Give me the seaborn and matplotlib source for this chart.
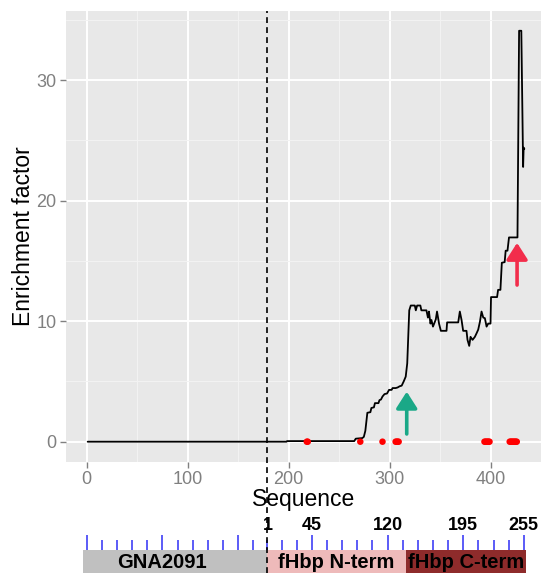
import matplotlib
matplotlib.use("Agg")
import matplotlib.pyplot as plt
import numpy as np
import pandas as pd
import seaborn as sns

# ---------------- data ----------------
seq_x = [1, 198, 198.5, 265, 266.5, 273, 274.5, 276, 278, 281, 282, 284.5, 285.5,
         289, 290, 291.5, 293, 295, 297.5, 299.5, 302, 303, 306, 308, 310, 312,
         314, 316, 317.5, 319.5, 321, 323, 325, 326, 327.3, 330.5, 331.5, 336.5,
         338, 339, 340.5, 341.5, 343, 345.8, 347, 349, 350.8, 356.4, 357, 368,
         369.6, 371.3, 372.9, 376.2, 377.2, 378.9, 380.2, 382.2, 384.5, 386.2,
         387.8, 389.5, 391.1, 392.8, 394.4, 396.1, 397.7, 400, 400.5, 406.5,
         407.5, 409.8, 411.2, 414, 415, 416.8, 418.3, 426.7, 428.3, 430.5,
         432.3, 432.8, 433.5]
enrich_y = [0, 0, 0.05, 0.05, 0.25, 0.3, 0.4, 0.9, 2.4, 2.45, 2.8, 2.85, 3.2,
            3.2, 3.45, 3.5, 3.75, 3.95, 4.0, 4.3, 4.3, 4.45, 4.45, 4.5, 4.6, 4.65,
            5.0, 5.4, 6.5, 10.9, 11.3, 11.3, 11.3, 10.9, 11.3, 11.3, 10.9, 10.9,
            10.3, 10.8, 9.8, 10.1, 9.55, 10.15, 10.8, 9.8, 9.2, 9.2, 9.9, 9.9,
            10.8, 10.1, 9.2, 9.2, 8.45, 7.95, 8.7, 8.45, 8.7, 9.0,
            9.3, 9.95, 10.8, 10.3, 10.25, 9.55, 9.8, 9.8, 12.0, 12.0,
            12.6, 12.6, 14.85, 14.9, 15.85, 15.85, 16.95, 16.95, 34.1, 34.1,
            22.8, 24.4, 24.3]

hit_x = [218, 219, 271, 293, 306, 307, 308, 309,
         394, 395, 396, 397, 398, 399,
         419, 420, 421, 422, 423, 424, 425, 426]
hit_y = [0] * len(hit_x)

x_ticks = [0, 100, 200, 300, 400]
y_ticks = [0, 10, 20, 30]
x_minor = [50, 150, 250, 350, 450]
y_minor = [5, 15, 25, 35]

construct_boundary = 178.5

# arrows: x, tail y, tip y
arrow_x = [317, 426.3]
arrow_tail = [0.64, 13.0]
arrow_tip = [4.15, 16.5]
arrow_colors = ["#1aa887", "#f22d4b"]

# bottom track
domain_names = ["GNA2091", "fHbp N-term", "fHbp C-term"]
domain_start = [-4, 179, 316]
domain_end = [179, 316, 435]
domain_label_x = [75, 247.5, 375.5]
domain_colors = ["#c0c0c0", "#eebaba", "#8e2b2b"]
fhbp_offset = 178
gna_ticks = [0, 15, 30, 45, 60, 75, 90, 105, 120, 135, 150, 165]
gna_major = [0, 75, 150]
fhbp_ticks = [1, 15, 30, 45, 60, 75, 90, 105, 120, 135, 150, 165, 180,
              195, 210, 225, 240, 255]
fhbp_major = [45, 120, 195, 255]
fhbp_labels = [1, 45, 120, 195, 255]

# ---------------- plot ----------------
sns.set_theme(style="darkgrid")
plt.rcParams["font.family"] = ["Liberation Sans", "DejaVu Sans"]

W, H = 541, 573
fig = plt.figure(figsize=(W / 100, H / 100), dpi=100)
ax = fig.add_axes([66 / W, 1 - 461.7 / H, 475 / W, 450.7 / H])
ax2 = fig.add_axes([66 / W, 0, 475 / W, 68 / H])
ax.set_zorder(3)

xlim = (-20.5, 450)
ax.set_facecolor("#e8e8e8")
for s in ax.spines.values():
    s.set_visible(False)

df = pd.DataFrame({"Sequence": seq_x, "Enrichment factor": enrich_y})
sns.lineplot(data=df, x="Sequence", y="Enrichment factor", ax=ax, sort=False,
             estimator=None, color="black", lw=1.3, zorder=4)
hits = pd.DataFrame({"x": hit_x, "y": hit_y})
sns.scatterplot(data=hits, x="x", y="y", ax=ax, color="#ff0000", s=22,
                edgecolor="none", zorder=5)

ax.axvline(construct_boundary, ymin=-0.247, ymax=1, color="black", lw=1.2,
           ls=(0, (3.5, 2.5)), clip_on=False, zorder=6)

for x, t0, t1, c in zip(arrow_x, arrow_tail, arrow_tip, arrow_colors):
    ax.annotate("", xy=(x, t1), xytext=(x, t0),
                arrowprops=dict(arrowstyle="-|>,head_length=0.5,head_width=0.32",
                                lw=2.6, color=c, mutation_scale=20,
                                shrinkA=0, shrinkB=0), zorder=6)

ax.set_xlim(*xlim)
ax.set_ylim(-1.66, 35.74)
ax.set_xticks(x_ticks)
ax.set_yticks(y_ticks)
ax.set_xticks(x_minor, minor=True)
ax.set_yticks(y_minor, minor=True)
ax.grid(which="major", color="white", lw=1.4)
ax.grid(which="minor", color="#f3f3f3", lw=0.7)
ax.tick_params(axis="both", which="major", colors="#808080", labelsize=13,
               length=4, width=1, pad=3, bottom=True, left=True)
ax.tick_params(axis="both", which="minor", length=0)
ax.set_xlabel("Sequence", fontsize=16.5, color="black", labelpad=0)
ax.set_ylabel("Enrichment factor", fontsize=16.5, color="black", labelpad=1)

# bottom track
ax2.set_xlim(*xlim)
ax2.set_ylim(68, 0)
ax2.axis("off")
widths = [e - s for s, e in zip(domain_start, domain_end)]
ax2.bar(domain_start, 30, bottom=45, width=widths, align="edge",
        color=domain_colors, edgecolor="none")
for name, lx in zip(domain_names, domain_label_x):
    ax2.text(lx, 58, name, ha="center", va="center", fontsize=14.5,
             fontweight="bold", color="black")
gna_top = [30 if t in gna_major else 35 for t in gna_ticks]
ax2.vlines(gna_ticks, gna_top, 45, color="#2f2ff5", lw=1.1)
f_pos = [fhbp_offset + t for t in fhbp_ticks]
f_top = [30 if t in fhbp_major else 35 for t in fhbp_ticks]
ax2.vlines(f_pos, f_top, 45, color="#2f2ff5", lw=1.1)
for r in fhbp_labels:
    ax2.text(fhbp_offset + r, 21, str(r), ha="center", va="center",
             fontsize=13, fontweight="bold", color="black")

fig.savefig("out.png", dpi=100)
